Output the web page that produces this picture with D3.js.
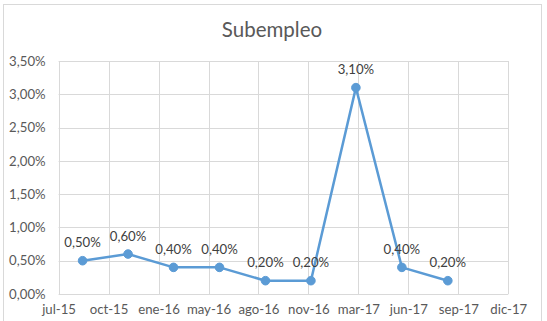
<!DOCTYPE html>
<html>
<head>
<meta charset="utf-8">
<script src="https://cdn.jsdelivr.net/npm/d3@7"></script>
<style>
  html, body { margin: 0; padding: 0; background: #ffffff; }
  svg { display: block; }
  text { font-family: Lato, "Open Sans", sans-serif; }
</style>
</head>
<body>
<svg id="chart" width="547" height="321"></svg>
<script>
// ---- data ----
const title = "Subempleo";
const dates = ["2015-09-01", "2015-12-01", "2016-03-01", "2016-06-01", "2016-09-01",
               "2016-12-01", "2017-03-01", "2017-06-01", "2017-09-01"];
const values = [0.005, 0.006, 0.004, 0.004, 0.002, 0.002, 0.031, 0.004, 0.002];
const xTickLabels = ["jul-15", "oct-15", "ene-16", "may-16", "ago-16",
                     "nov-16", "mar-17", "jun-17", "sep-17", "dic-17"];
const xAxisStart = "2015-07-15";
const xTickStepDays = 100;
const yTickValues = [0, 0.005, 0.01, 0.015, 0.02, 0.025, 0.03, 0.035];

// ---- setup ----
const locale = d3.formatLocale({ decimal: ",", thousands: ".", grouping: [3], currency: ["", "€"] });
const pct = locale.format(".2%");
const parse = d3.timeParse("%Y-%m-%d");

const svg = d3.select("#chart");
const W = 547, H = 321;
const margin = { left: 58.6, right: W - 508.3, top: 61, bottom: H - 294 };

const start = parse(xAxisStart);
const tickDates = xTickLabels.map((_, i) => d3.timeDay.offset(start, i * xTickStepDays));
const x = d3.scaleTime()
  .domain([tickDates[0], tickDates[tickDates.length - 1]])
  .range([margin.left, W - margin.right]);
const y = d3.scaleLinear()
  .domain([0, d3.max(yTickValues)])
  .range([H - margin.bottom, margin.top]);

const data = dates.map((d, i) => ({ date: parse(d), value: values[i] }));

// chart border
svg.append("rect")
  .attr("x", 3.5).attr("y", 4.5)
  .attr("width", 538).attr("height", 330)
  .attr("fill", "#ffffff")
  .attr("stroke", "#d9d9d9").attr("stroke-width", 1);

// title
svg.append("text")
  .attr("x", 272).attr("y", 37)
  .attr("text-anchor", "middle")
  .attr("font-size", 20.5)
  .attr("fill", "#595959")
  .text(title);

// gridlines
const grid = svg.append("g").attr("stroke", "#d9d9d9").attr("stroke-width", 1);
grid.selectAll("line.h").data(yTickValues).join("line")
  .attr("class", "h")
  .attr("x1", x.range()[0]).attr("x2", x.range()[1])
  .attr("y1", d => Math.round(y(d)) + 0.5).attr("y2", d => Math.round(y(d)) + 0.5);
grid.selectAll("line.v").data(tickDates).join("line")
  .attr("class", "v")
  .attr("x1", d => Math.round(x(d)) + 0.5).attr("x2", d => Math.round(x(d)) + 0.5)
  .attr("y1", y.range()[1]).attr("y2", y.range()[0]);

// axes
const yAxis = svg.append("g")
  .attr("transform", `translate(${margin.left - 13},0)`)
  .call(d3.axisLeft(y).tickValues(yTickValues).tickFormat(pct).tickSize(0).tickPadding(0));
yAxis.select(".domain").remove();
yAxis.selectAll("text").attr("fill", "#595959").attr("font-size", 13.2)
  .attr("font-family", "Lato, 'Open Sans', sans-serif");

const xAxis = svg.append("g")
  .attr("transform", `translate(0,${H - margin.bottom})`)
  .call(d3.axisBottom(x).tickValues(tickDates).tickFormat((d, i) => xTickLabels[i]).tickSize(0).tickPadding(11));
xAxis.select(".domain").remove();
xAxis.selectAll("text").attr("fill", "#595959").attr("font-size", 13.2)
  .attr("font-family", "Lato, 'Open Sans', sans-serif");

// line
const line = d3.line().x(d => x(d.date)).y(d => y(d.value));
svg.append("path")
  .datum(data)
  .attr("d", line)
  .attr("fill", "none")
  .attr("stroke", "#5b9bd5")
  .attr("stroke-width", 2.5)
  .attr("stroke-linejoin", "round");

// markers
svg.selectAll("circle.pt").data(data).join("circle")
  .attr("class", "pt")
  .attr("cx", d => x(d.date)).attr("cy", d => y(d.value))
  .attr("r", 4.3)
  .attr("fill", "#5b9bd5")
  .attr("stroke", "#5b9bd5").attr("stroke-width", 1);

// data labels
svg.selectAll("text.lbl").data(data).join("text")
  .attr("class", "lbl")
  .attr("x", d => x(d.date)).attr("y", d => y(d.value) - 18)
  .attr("dy", "0.35em")
  .attr("text-anchor", "middle")
  .attr("font-size", 13.2)
  .attr("fill", "#404040")
  .text(d => pct(d.value));
</script>
</body>
</html>
